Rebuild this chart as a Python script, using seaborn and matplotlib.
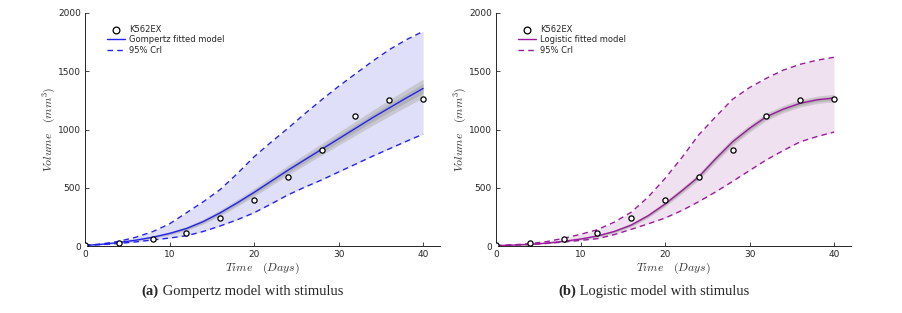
import numpy as np
import pandas as pd
import matplotlib
matplotlib.use("Agg")
import matplotlib.pyplot as plt
import seaborn as sns

# observed tumour volumes (same data in both panels)
days_obs = [0, 4, 8, 12, 16, 20, 24, 28, 32, 36, 40]
vol_obs = [6, 23, 57, 110, 244, 392, 595, 822, 1113, 1252, 1261]

days_fit = list(range(0, 41, 2))

gomp_fit = [5, 15, 30, 50, 75, 108, 150, 210, 285, 370, 460,
            555, 650, 740, 830, 920, 1010, 1100, 1185, 1270, 1352]
gomp_hi = [5, 18, 40, 75, 123, 190, 285, 380, 485, 620, 765,
           890, 1010, 1135, 1255, 1370, 1478, 1585, 1685, 1770, 1842]
gomp_lo = [5, 12, 22, 35, 52, 68, 88, 125, 172, 225, 285,
           360, 438, 505, 567, 635, 702, 770, 834, 898, 960]
gomp_spread = [0, 3, 5, 8, 10, 14, 18, 22, 26, 30, 34,
               38, 42, 46, 50, 55, 60, 65, 70, 75, 80]

logi_fit = [3, 8, 14, 25, 40, 60, 86, 125, 180, 260, 360,
            475, 595, 750, 895, 1010, 1110, 1175, 1225, 1255, 1270]
logi_hi = [3, 10, 20, 38, 66, 100, 140, 205, 290, 420, 580,
           760, 955, 1110, 1260, 1360, 1440, 1510, 1560, 1595, 1620]
logi_lo = [3, 8, 12, 22, 34, 48, 63, 98, 143, 190, 240,
           305, 381, 465, 555, 648, 740, 820, 895, 940, 978]
logi_spread = [0, 2, 3, 4, 6, 8, 10, 12, 15, 18, 22,
               25, 28, 30, 32, 32, 32, 32, 32, 32, 32]

panels = [
    ("Gompertz fitted model", gomp_fit, gomp_hi, gomp_lo, gomp_spread,
     "#2323f0", "#dfdff9", "(a)", "Gompertz model with stimulus"),
    ("Logistic fitted model", logi_fit, logi_hi, logi_lo, logi_spread,
     "#9b1b9b", "#f0e1f0", "(b)", "Logistic model with stimulus"),
]

sns.set_style("ticks")
plt.rcParams["font.family"] = ["DejaVu Sans"]
plt.rcParams["mathtext.fontset"] = "cm"

fig = plt.figure(figsize=(9.03, 3.13), dpi=100)
lefts = [85 / 903, 496 / 903]
captions = []

for left, (name, fit, hi, lo, spread, col, fillcol, tag, caption) in zip(lefts, panels):
    ax = fig.add_axes([left, 67 / 313, 355 / 903, 233 / 313])
    fit_a = np.array(fit, dtype=float)
    sp = np.array(spread, dtype=float)

    ax.fill_between(days_fit, lo, hi, color=fillcol, lw=0, zorder=1)
    # posterior spread of the fit (grey band)
    ax.fill_between(days_fit, fit_a - sp, fit_a + sp, color="#b4b4b4", alpha=0.55, lw=0, zorder=2)
    ax.fill_between(days_fit, fit_a - sp * 0.5, fit_a + sp * 0.5, color="#9a9a9a", alpha=0.45, lw=0, zorder=2)

    df_fit = pd.DataFrame({"day": days_fit, "fit": fit, "hi": hi, "lo": lo})
    sns.lineplot(data=df_fit, x="day", y="fit", color=col, lw=1.0, ax=ax, zorder=4, label=name)
    sns.lineplot(data=df_fit, x="day", y="hi", color=col, lw=1.0, ls=(0, (4, 3)), ax=ax, zorder=3, label="95% CrI")
    sns.lineplot(data=df_fit, x="day", y="lo", color=col, lw=1.0, ls=(0, (4, 3)), ax=ax, zorder=3)

    df_obs = pd.DataFrame({"day": days_obs, "vol": vol_obs})
    sns.scatterplot(data=df_obs, x="day", y="vol", marker="o", s=14, facecolor="white",
                    edgecolor="black", linewidth=0.9, ax=ax, zorder=5, label="K562EX")

    ax.set_xlim(0, 42)
    ax.set_ylim(0, 2000)
    ax.set_xticks([0, 10, 20, 30, 40])
    ax.set_yticks([0, 500, 1000, 1500, 2000])
    ax.tick_params(direction="in", length=3, width=0.6, labelsize=6.5, pad=3)
    for s in ["top", "right"]:
        ax.spines[s].set_visible(False)
    for s in ["left", "bottom"]:
        ax.spines[s].set_linewidth(0.7)
    ax.set_xlabel(r"$Time\quad(Days)$", fontsize=8.5, color="#333333", labelpad=1)
    ax.set_ylabel(r"$Volume\quad(mm^3)$", fontsize=8.5, color="#333333", labelpad=0)

    h, l = ax.get_legend_handles_labels()
    order = [l.index("K562EX"), l.index(name), l.index("95% CrI")]
    ax.legend([h[i] for i in order], [l[i] for i in order], loc="upper left",
              bbox_to_anchor=(0.04, 0.98), frameon=False, fontsize=6,
              handlelength=2.2, handletextpad=0.5, labelspacing=0.15, markerscale=1.3)

    # caption under the panel, bold tag then plain text
    cx = (left * 903 + 0.5 * 355 - 20) / 903
    t1 = fig.text(0, 0.07, tag, ha="left", va="center",
                  family="Liberation Serif", fontweight="bold", fontsize=10.5)
    t2 = fig.text(0, 0.07, " " + caption, ha="left", va="center",
                  family="Liberation Serif", fontsize=10.5)
    captions.append((cx, t1, t2))

fig.canvas.draw()
r = fig.canvas.get_renderer()
for cx, t1, t2 in captions:
    w1 = t1.get_window_extent(r).width / 903
    w2 = t2.get_window_extent(r).width / 903
    x0 = cx - (w1 + w2) / 2
    t1.set_x(x0)
    t2.set_x(x0 + w1)

fig.savefig("out.png", dpi=100)
